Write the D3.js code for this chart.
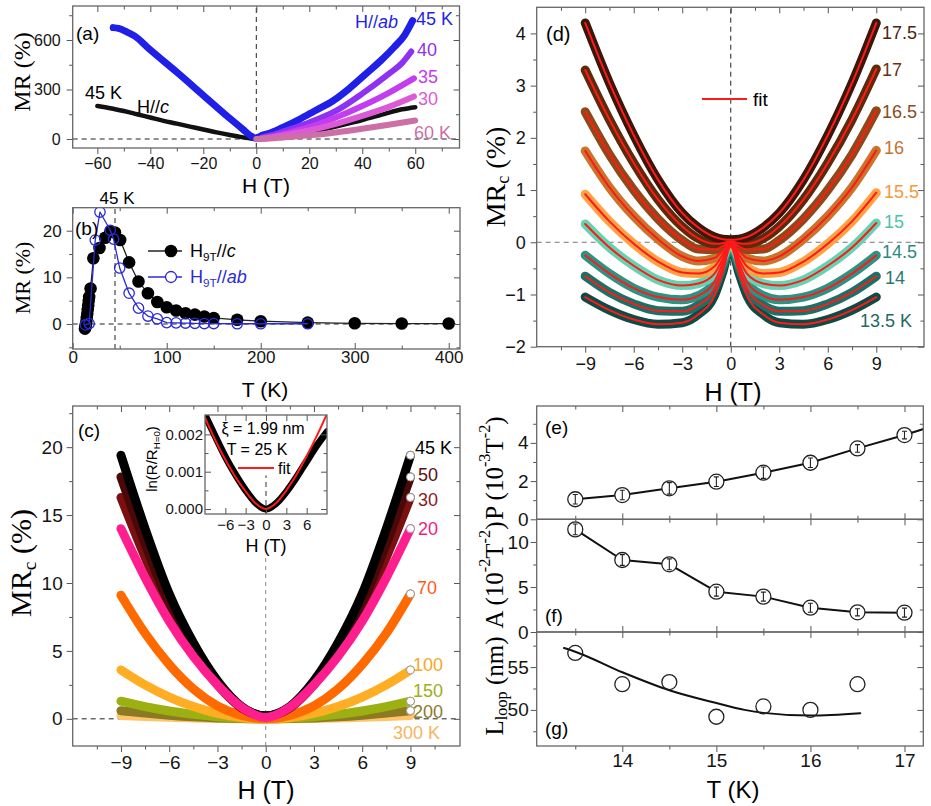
<!DOCTYPE html>
<html><head><meta charset="utf-8">
<script src="https://cdn.jsdelivr.net/npm/d3@7"></script>
<style>body{margin:0;background:#fff}svg{display:block}</style>
</head><body>
<script>
// ================= DATA =================
// (a) MR vs H
const aH_ab45 = [-54,-52,-49,-46,-40,-30,-20,-10,-5,-2,0,2,5,10,16.5,22,29,35,42,47,52,56,59];
const aMR_ab45 = [675,670,650,625,540,405,265,125,58,18,5,22,35,70,121,170,232,305,404,475,556,630,717];
const aH_ab40 = [2,5,10,20,30,40,50,55,58.5];
const aMR_ab40 = [8,20,45,100,170,275,395,460,530];
const aH_ab35 = [2,5,10,20,30,40,50,59.5];
const aMR_ab35 = [4,12,30,72,130,200,280,368];
const aH_ab30 = [2,5,10,20,30,40,50,59.5];
const aMR_ab30 = [2,8,22,52,92,140,195,258];
const aH_ab60 = [0,5,10,20,30,40,50,60];
const aMR_ab60 = [0,3,9,22,40,62,86,112];
const aH_c45 = [-60,-57,-54,-50,-45,-40,-35,-30,-25,-20,-15,-10,-5,-2,0,2,5,10,15,20,25,30,35,40,45,50,55,60];
const aMR_c45 = [200,192,183,170,150,130,110,93,75,58,40,24,10,3,0,2,6,16,28,42,58,76,95,115,137,160,180,193];

// (b) MR at 9 T vs T
const bT_c = [13,13.5,14,14.5,15,15.5,16,16.5,17,17.5,19,22,28.5,34.5,40,45,50.5,60,70,80,90,100,110,120,130,140,150,175,200,250,300,350,400];
const bMR_c = [-1.0,-0.7,-0.2,0.5,1.3,2.2,3.1,4.0,5.0,5.8,7.6,14.1,16.3,18.5,19.8,19.6,18.0,13.2,9.1,6.6,4.7,3.6,2.9,2.3,2.0,1.6,1.3,0.9,0.6,0.3,0.15,0.1,0.1];
const bT_ab = [13.5,17.5,24,29,40,43.5,50,60,70,80,90,100,110,120,130,140,150,175,200,250];
const bMR_ab = [-0.2,0.1,18.0,24.0,20.1,18.2,12.0,6.6,3.4,1.7,1.1,0.3,0.25,0.2,0.15,0.1,0.1,0.05,0.05,0.05];

// (c) MR_c vs H
const cH = [-9,-7.5,-6,-4.5,-3,-1.5,0,1.5,3,4.5,6,7.5,9];
const cMR45 = [19.4,14.0,9.2,5.6,2.8,0.9,0.2,0.9,2.8,5.6,9.2,14.0,19.4];
const cMR50 = [17.8,12.9,8.5,5.2,2.6,0.85,0.2,0.85,2.6,5.2,8.5,12.9,17.8];
const cMR30 = [16.3,11.9,7.9,4.9,2.5,0.8,0.2,0.8,2.5,4.9,7.9,11.9,16.3];
const cMR20 = [14.0,10.4,7.2,4.6,2.5,0.85,0.1,0.85,2.5,4.6,7.2,10.4,14.0];
const cMR70 = [9.1,6.3,4.0,2.2,0.95,0.25,0.0,0.25,0.95,2.2,4.0,6.3,9.2];
const cMR100 = [3.6,2.5,1.6,0.9,0.4,0.1,0.0,0.1,0.4,0.9,1.6,2.5,3.6];
const cMR150 = [1.3,0.9,0.58,0.33,0.15,0.04,0.0,0.04,0.15,0.33,0.58,0.9,1.3];
const cMR200 = [0.6,0.42,0.27,0.15,0.07,0.02,0.0,0.02,0.07,0.15,0.27,0.42,0.6];
const cMR300 = [0.25,0.17,0.11,0.06,0.03,0.01,0.0,0.01,0.03,0.06,0.11,0.17,0.25];
// (c) inset
const iH = [-9,-7.5,-6,-4.5,-3,-1.5,0,1.5,3,4.5,6,7.5,9];
const iLn = [0.00252,0.00195,0.00140,0.00092,0.00050,0.00016,0.00000,0.00015,0.00046,0.00085,0.00128,0.00170,0.00207];
const iFit = [0.00245,0.00185,0.00132,0.00086,0.00047,0.00015,0.00000,0.00016,0.00050,0.00092,0.00142,0.00196,0.00255];

// (d) MR_c vs H, low T
const dH = [-9,-7.5,-6,-4.5,-3,-2,-1,-0.5,0,0.5,1,2,3,4.5,6,7.5,9];
const d175 = [4.2,3.05,2.05,1.2,0.56,0.28,0.1,0.06,0.05,0.06,0.1,0.28,0.56,1.2,2.05,3.05,4.2];
const d170 = [3.3,2.35,1.52,0.82,0.3,0.07,-0.03,-0.02,0.02,-0.02,-0.03,0.07,0.3,0.82,1.52,2.35,3.32];
const d165 = [2.5,1.68,1.0,0.45,0.04,-0.13,-0.14,-0.08,0.0,-0.08,-0.14,-0.13,0.04,0.45,1.0,1.68,2.52];
const d160 = [1.75,1.05,0.5,0.06,-0.27,-0.36,-0.3,-0.16,0.0,-0.16,-0.3,-0.36,-0.27,0.06,0.5,1.05,1.76];
const d155 = [0.92,0.4,-0.03,-0.37,-0.58,-0.6,-0.46,-0.24,0.0,-0.24,-0.46,-0.6,-0.58,-0.37,-0.03,0.4,0.95];
const d150 = [0.35,-0.1,-0.45,-0.72,-0.83,-0.79,-0.6,-0.32,0.0,-0.32,-0.6,-0.79,-0.83,-0.72,-0.45,-0.1,0.37];
const d145 = [-0.25,-0.6,-0.88,-1.05,-1.1,-1.02,-0.75,-0.4,-0.02,-0.4,-0.75,-1.02,-1.1,-1.05,-0.88,-0.6,-0.25];
const d140 = [-0.65,-0.96,-1.18,-1.31,-1.32,-1.2,-0.88,-0.48,-0.05,-0.48,-0.88,-1.2,-1.32,-1.31,-1.18,-0.96,-0.65];
const d135 = [-1.05,-1.3,-1.48,-1.57,-1.54,-1.38,-1.02,-0.58,-0.08,-0.58,-1.02,-1.38,-1.54,-1.57,-1.48,-1.3,-1.05];

// (e),(f),(g) vs T
const efgT = [13.5,14,14.5,15,15.5,16,16.5,17];
const eP = [1.05,1.27,1.62,1.97,2.44,2.96,3.71,4.41];
const ePerr = [0.25,0.25,0.3,0.25,0.3,0.25,0.2,0.2];
const eExtT = [17,17.25];
const eExtP = [4.41,4.8];
const fA = [11.4,8.0,7.52,4.48,3.93,2.7,2.19,2.15];
const fAerr = [0.6,0.6,0.6,0.5,0.5,0.5,0.4,0.5];
const gT = [13.5,14,14.5,15,15.5,16,16.5];
const gL = [56.65,53.0,53.25,49.2,50.4,50.0,53.0];
const gFitT = [13.38,13.5,14,14.5,15,15.3,15.5,16,16.53];
const gFitL = [57.23,56.8,54.4,52.3,50.8,50.0,49.65,49.33,49.6];

// ================= DRAWING =================
const SANS = "'Liberation Sans', Arial, Helvetica, sans-serif";
const SERIF = "'Liberation Serif', 'Times New Roman', Times, serif";
const svg = d3.select('body').append('svg').attr('width', 931).attr('height', 806);
const defs = svg.append('defs');
let clipN = 0;

function makePanel(o) {
  const x = d3.scaleLinear().domain(o.xd).range([o.x0, o.x1]);
  const y = d3.scaleLinear().domain(o.yd).range([o.y1, o.y0]);
  const id = 'clip' + (++clipN);
  defs.append('clipPath').attr('id', id).append('rect')
    .attr('x', o.x0).attr('y', o.y0).attr('width', o.x1 - o.x0).attr('height', o.y1 - o.y0);
  const g = svg.append('g');
  const plot = g.append('g').attr('clip-path', `url(#${id})`);
  return {x, y, g, plot, o};
}

function frame(p, s) {
  const {x, y, g, o} = p;
  const fr = g.append('g');
  const mk = (gen, tr, vals, size, fmt, pad) => {
    const a = fr.append('g').attr('transform', tr)
      .call(gen.tickValues(vals).tickSizeInner(size).tickSizeOuter(0).tickPadding(pad ?? 3).tickFormat(fmt || (() => '')));
    a.select('.domain').remove();
    a.selectAll('line').attr('stroke', '#555').attr('stroke-width', 1);
    a.selectAll('text').attr('font-family', SANS).attr('font-size', s.fs).attr('fill', '#151515');
  };
  const bs = s.bottomIn ? -1 : 1;
  const ls = s.leftIn ? -1 : 1;
  mk(d3.axisBottom(x), `translate(0,${o.y1})`, s.xMajor, 6 * bs, s.xLab === false ? null : s.xFmt, s.xPad);
  mk(d3.axisBottom(x), `translate(0,${o.y1})`, s.xMinor, 3.5 * bs, null);
  mk(d3.axisBottom(x), `translate(0,${o.y0})`, s.xMajor, 6, null);
  mk(d3.axisBottom(x), `translate(0,${o.y0})`, s.xMinor, 3.5, null);
  mk(d3.axisLeft(y), `translate(${o.x0},0)`, s.yMajor, 6 * ls, s.yFmt, s.yPad);
  mk(d3.axisLeft(y), `translate(${o.x0},0)`, s.yMinor, 3.5 * ls, null);
  mk(d3.axisLeft(y), `translate(${o.x1},0)`, s.yMajor, 6, null);
  mk(d3.axisLeft(y), `translate(${o.x1},0)`, s.yMinor, 3.5, null);
  fr.append('rect').attr('x', o.x0).attr('y', o.y0).attr('width', o.x1 - o.x0).attr('height', o.y1 - o.y0)
    .attr('fill', 'none').attr('stroke', '#666').attr('stroke-width', 1.3);
}

function drawLine(p, xs, ys, color, w, curve) {
  const data = xs.map((v, i) => [v, ys[i]]);
  return p.plot.append('path').datum(data)
    .attr('d', d3.line().x(d => p.x(d[0])).y(d => p.y(d[1])).curve(curve || d3.curveMonotoneX))
    .attr('fill', 'none').attr('stroke', color).attr('stroke-width', w)
    .attr('stroke-linecap', 'round').attr('stroke-linejoin', 'round');
}

function hline(p, v, color, dash) {
  p.plot.append('line').attr('x1', p.o.x0).attr('x2', p.o.x1).attr('y1', p.y(v)).attr('y2', p.y(v))
    .attr('stroke', color).attr('stroke-width', 1).attr('stroke-dasharray', dash);
}
function vline(p, v, color, dash, yTop) {
  p.plot.append('line').attr('x1', p.x(v)).attr('x2', p.x(v)).attr('y1', p.o.y1).attr('y2', yTop ?? p.o.y0)
    .attr('stroke', color).attr('stroke-width', 1).attr('stroke-dasharray', dash);
}

function rich(t, parts, fs) {
  let shift = 0;
  parts.forEach(pt => {
    const target = pt.sub ? fs * 0.3 : pt.sup ? -fs * 0.38 : 0;
    const ts = t.append('tspan').text(pt.t).attr('dy', target - shift);
    shift = target;
    if (pt.sub || pt.sup) ts.attr('font-size', fs * 0.65);
    if (pt.it) ts.attr('font-style', 'italic');
  });
}
function label(x, y, parts, o) {
  const t = svg.append('text').attr('x', x).attr('y', y).attr('font-size', o.fs).attr('fill', o.color || '#000')
    .attr('font-family', o.serif ? SERIF : SANS).attr('text-anchor', o.anchor || 'start')
    .attr('dominant-baseline', 'central');
  if (o.rotate) t.attr('transform', `rotate(-90 ${x} ${y})`);
  rich(t, typeof parts === 'string' ? [{t: parts}] : parts, o.fs);
  return t;
}
const fmtD = d3.format('d');

// ---------- (a) ----------
const pA = makePanel({x0: 72.7, x1: 459.5, y0: 6, y1: 148, xd: [-69.3, 76.7], yd: [-54.5, 806]});
hline(pA, 0, '#222', '5,4');
vline(pA, 0, '#222', '5,4');
[
  {H: aH_c45, V: aMR_c45, color: '#111', w: 4.5},
  {H: aH_ab45, V: aMR_ab45, color: '#1f1fe8', w: 7},
  {H: aH_ab40, V: aMR_ab40, color: '#9030f0', w: 6},
  {H: aH_ab35, V: aMR_ab35, color: '#c43cf0', w: 6},
  {H: aH_ab30, V: aMR_ab30, color: '#dc5ad8', w: 6},
  {H: aH_ab60, V: aMR_ab60, color: '#cc6fa6', w: 6}
].forEach(s => drawLine(pA, s.H, s.V, s.color, s.w));
frame(pA, {xMajor: [-60, -40, -20, 0, 20, 40, 60], xMinor: [-50, -30, -10, 10, 30, 50, 70],
  yMajor: [0, 300, 600], yMinor: [150, 450, 750], xFmt: fmtD, yFmt: fmtD, fs: 16, xPad: 4, yPad: 6});
label(76, 33, '(a)', {fs: 19});
label(355, 22, [{t: 'H//'}, {t: 'ab', it: 1}], {fs: 18, color: '#1f1fe8'});
label(416, 19, '45 K', {fs: 18, color: '#1f1fe8'});
label(417, 50, '40', {fs: 18, color: '#9030f0'});
label(418, 77, '35', {fs: 18, color: '#c43cf0'});
label(418, 99, '30', {fs: 18, color: '#dc5ad8'});
label(414, 133, '60 K', {fs: 18, color: '#cc6fa6'});
label(85, 93, '45 K', {fs: 18});
label(137, 107, [{t: 'H//'}, {t: 'c', it: 1}], {fs: 18});
label(266, 185, 'H (T)', {fs: 21, anchor: 'middle'});
label(22, 72, 'MR (%)', {fs: 24, anchor: 'middle', rotate: 1, serif: 1});

// ---------- (b) ----------
const pB = makePanel({x0: 72.7, x1: 460, y0: 207.7, y1: 349, xd: [0, 412], yd: [-5.36, 24.93]});
hline(pB, 0, '#222', '5,4');
vline(pB, 45, '#222', '5,4');
drawLine(pB, bT_c, bMR_c, '#222', 1.3, d3.curveLinear);
pB.plot.selectAll(null).data(bT_c.map((t, i) => [t, bMR_c[i]])).enter().append('circle')
  .attr('cx', d => pB.x(d[0])).attr('cy', d => pB.y(d[1])).attr('r', 6.3).attr('fill', '#000');
drawLine(pB, bT_ab, bMR_ab, '#2b2bd6', 1.3, d3.curveLinear);
pB.plot.selectAll(null).data(bT_ab.map((t, i) => [t, bMR_ab[i]])).enter().append('circle')
  .attr('cx', d => pB.x(d[0])).attr('cy', d => pB.y(d[1])).attr('r', 5.2)
  .attr('fill', 'none').attr('stroke', '#2b2bd6').attr('stroke-width', 1.3);
frame(pB, {xMajor: [0, 100, 200, 300, 400], xMinor: [50, 150, 250, 350], yMajor: [0, 10, 20], yMinor: [-5, 5, 15],
  xFmt: fmtD, yFmt: fmtD, fs: 17, xPad: 2, yPad: 5, bottomIn: true});
svg.append('line').attr('x1', 148).attr('x2', 182).attr('y1', 251).attr('y2', 251).attr('stroke', '#222').attr('stroke-width', 1.3);
svg.append('circle').attr('cx', 171).attr('cy', 251).attr('r', 6.3).attr('fill', '#000');
svg.append('line').attr('x1', 148).attr('x2', 182).attr('y1', 277).attr('y2', 277).attr('stroke', '#2b2bd6').attr('stroke-width', 1.3);
svg.append('circle').attr('cx', 171).attr('cy', 277).attr('r', 5.5).attr('fill', '#fff').attr('stroke', '#2b2bd6').attr('stroke-width', 1.3);
label(190, 251, [{t: 'H'}, {t: '9T', sub: 1}, {t: '//'}, {t: 'c', it: 1}], {fs: 18});
label(190, 277, [{t: 'H'}, {t: '9T', sub: 1}, {t: '//'}, {t: 'ab', it: 1}], {fs: 18, color: '#2b2bd6'});
label(75, 228, '(b)', {fs: 19});
label(117, 198, '45 K', {fs: 17, anchor: 'middle'});
label(265, 389, 'T (K)', {fs: 21, anchor: 'middle'});
label(22, 278, 'MR (%)', {fs: 22, anchor: 'middle', rotate: 1, serif: 1});

// ---------- (c) ----------
const pC = makePanel({x0: 72.7, x1: 460, y0: 406, y1: 746, xd: [-12, 12.08], yd: [-2.0, 23.03]});
hline(pC, 0, '#222', '5,4');
vline(pC, 0, '#888', '4,4', 557);
const cSeries = [
  {V: cMR300, color: '#ffc46a', lab: '300 K', lx: 393, ly: 733, lc: '#f6b462', end: false},
  {V: cMR200, color: '#8c7a22', lab: '200', lx: 413, ly: 712, lc: '#8d7a2a', end: true},
  {V: cMR150, color: '#9db012', lab: '150', lx: 413, ly: 691, lc: '#9caf1c', end: true},
  {V: cMR100, color: '#ffad22', lab: '100', lx: 413, ly: 665, lc: '#f4a828', end: true},
  {V: cMR70, color: '#ff6a00', lab: '70', lx: 417, ly: 588, lc: '#ff5a1a', end: true},
  {V: cMR30, color: '#7a1010', lab: '30', lx: 418, ly: 500, lc: '#8b1a1a', end: true},
  {V: cMR50, color: '#4a0808', lab: '50', lx: 418, ly: 475, lc: '#5a0f0f', end: true},
  {V: cMR45, color: '#000000', lab: '45 K', lx: 415, ly: 448, lc: '#000', end: true},
  {V: cMR20, color: '#ff1e8e', lab: '20', lx: 418, ly: 529, lc: '#f0207f', end: true}
];
cSeries.forEach(s => drawLine(pC, cH, s.V, s.color, 9));
cSeries.filter(s => s.end).forEach(s => {
  pC.plot.append('circle').attr('cx', pC.x(cH[cH.length - 1])).attr('cy', pC.y(s.V[s.V.length - 1])).attr('r', 4)
    .attr('fill', '#fff').attr('stroke', '#999').attr('stroke-width', 1);
});
frame(pC, {xMajor: [-9, -6, -3, 0, 3, 6, 9], xMinor: [-10.5, -7.5, -4.5, -1.5, 1.5, 4.5, 7.5, 10.5],
  yMajor: [0, 5, 10, 15, 20], yMinor: [2.5, 7.5, 12.5, 17.5, 22.5], xFmt: fmtD, yFmt: fmtD, fs: 19, xPad: 4, yPad: 4});
cSeries.forEach(s => label(s.lx, s.ly, s.lab, {fs: 18, color: s.lc}));
label(78, 430, '(c)', {fs: 19});
label(266, 790, 'H (T)', {fs: 25, anchor: 'middle'});
label(20, 563, [{t: 'MR'}, {t: 'c', sub: 1}, {t: ' (%)'}], {fs: 30, anchor: 'middle', rotate: 1, serif: 1});

// inset
const pI = makePanel({x0: 205, x1: 327, y0: 415, y1: 514, xd: [-9, 9], yd: [-0.000134, 0.00252]});
pI.plot.append('rect').attr('x', 205).attr('y', 415).attr('width', 122).attr('height', 99).attr('fill', '#fff');
vline(pI, 0, '#333', '5,4', pI.y(0.0009));
drawLine(pI, iH, iLn, '#000', 7);
drawLine(pI, iH, iFit, '#ff1a1a', 2);
frame(pI, {xMajor: [-6, -3, 0, 3, 6], xMinor: [], yMajor: [0, 0.001, 0.002], yMinor: [0.0005, 0.0015],
  xFmt: fmtD, yFmt: d3.format('.3f'), fs: 15, xPad: 5, yPad: 2, bottomIn: true, leftIn: true});
label(263, 428, 'ξ = 1.99 nm', {fs: 16, anchor: 'middle'});
label(257, 449, 'T = 25 K', {fs: 16, anchor: 'middle'});
svg.append('line').attr('x1', 238).attr('x2', 274).attr('y1', 468).attr('y2', 468).attr('stroke', '#ff1a1a').attr('stroke-width', 2);
label(278, 468, 'fit', {fs: 16});
label(266, 546, 'H (T)', {fs: 18, anchor: 'middle'});
label(151, 459, [{t: 'ln(R/R'}, {t: 'H=0', sub: 1}, {t: ')'}], {fs: 15, anchor: 'middle', rotate: 1});

// ---------- (d) ----------
const pD = makePanel({x0: 536.7, x1: 924, y0: 7.3, y1: 346.7, xd: [-12, 11.95], yd: [-2, 4.5]});
hline(pD, 0, '#777', '5,4');
vline(pD, 0, '#222', '5,4');
const dSeries = [
  {V: d135, color: '#0f4a44', lab: '13.5 K', lx: 860, ly: 321, lc: '#1f6a62'},
  {V: d140, color: '#1d7066', lab: '14', lx: 885, ly: 278, lc: '#267a70'},
  {V: d145, color: '#2c9284', lab: '14.5', lx: 882, ly: 252, lc: '#2a8a80'},
  {V: d150, color: '#66d2b2', lab: '15', lx: 884, ly: 222, lc: '#4cc4a4'},
  {V: d155, color: '#ffa244', lab: '15.5', lx: 884, ly: 192, lc: '#f4983c'},
  {V: d160, color: '#c8742a', lab: '16', lx: 884, ly: 148, lc: '#c27430'},
  {V: d165, color: '#8b4a18', lab: '16.5', lx: 882, ly: 112, lc: '#8b4a1a'},
  {V: d170, color: '#5e2a0c', lab: '17', lx: 882, ly: 70, lc: '#6b3212'},
  {V: d175, color: '#3a170a', lab: '17.5', lx: 882, ly: 33, lc: '#4a2410'}
];
dSeries.forEach(s => drawLine(pD, dH, s.V, s.color, 9));
dSeries.forEach(s => drawLine(pD, dH, s.V, '#ff1a1a', 2));
frame(pD, {xMajor: [-9, -6, -3, 0, 3, 6, 9], xMinor: [-10.5, -7.5, -4.5, -1.5, 1.5, 4.5, 7.5, 10.5],
  yMajor: [-2, -1, 0, 1, 2, 3, 4], yMinor: [-1.5, -0.5, 0.5, 1.5, 2.5, 3.5], xFmt: fmtD, yFmt: fmtD, fs: 18, xPad: 5, yPad: 5});
dSeries.forEach(s => label(s.lx, s.ly, s.lab, {fs: 18, color: s.lc}));
svg.append('line').attr('x1', 702).attr('x2', 747).attr('y1', 99).attr('y2', 99).attr('stroke', '#ff1a1a').attr('stroke-width', 2.2);
label(753, 99, 'fit', {fs: 19});
label(546, 34, '(d)', {fs: 20});
label(733, 392, 'H (T)', {fs: 25, anchor: 'middle'});
label(495, 177, [{t: 'MR'}, {t: 'c', sub: 1}, {t: ' (%)'}], {fs: 28, anchor: 'middle', rotate: 1, serif: 1});

// ---------- (e),(f),(g) ----------
const xdT = [13.09, 17.2];
const pE = makePanel({x0: 536.7, x1: 923.3, y0: 406, y1: 519.3, xd: xdT, yd: [0, 5.93]});
const pF = makePanel({x0: 536.7, x1: 923.3, y0: 519.3, y1: 632, xd: xdT, yd: [0, 12.52]});
const pG = makePanel({x0: 536.7, x1: 923.3, y0: 632, y1: 746, xd: xdT, yd: [45.78, 59.1]});

function errPanel(p, T, V, E) {
  drawLine(p, T, V, '#111', 2, d3.curveLinear);
  const pts = T.map((t, i) => ({t, v: V[i], e: E[i]}));
  p.plot.selectAll(null).data(pts).enter().append('circle')
    .attr('cx', d => p.x(d.t)).attr('cy', d => p.y(d.v)).attr('r', 7.5)
    .attr('fill', '#fff').attr('stroke', '#222').attr('stroke-width', 1.3);
  const eb = p.plot.selectAll(null).data(pts).enter().append('g').attr('stroke', '#222').attr('stroke-width', 1.1);
  eb.append('line').attr('x1', d => p.x(d.t)).attr('x2', d => p.x(d.t)).attr('y1', d => p.y(d.v - d.e)).attr('y2', d => p.y(d.v + d.e));
  eb.append('line').attr('x1', d => p.x(d.t) - 2.5).attr('x2', d => p.x(d.t) + 2.5).attr('y1', d => p.y(d.v - d.e)).attr('y2', d => p.y(d.v - d.e));
  eb.append('line').attr('x1', d => p.x(d.t) - 2.5).attr('x2', d => p.x(d.t) + 2.5).attr('y1', d => p.y(d.v + d.e)).attr('y2', d => p.y(d.v + d.e));
}
drawLine(pE, eExtT, eExtP, '#111', 2, d3.curveLinear);
errPanel(pE, efgT, eP, ePerr);
errPanel(pF, efgT, fA, fAerr);
drawLine(pG, gFitT, gFitL, '#111', 2, d3.curveMonotoneX);
pG.plot.selectAll(null).data(gT.map((t, i) => [t, gL[i]])).enter().append('circle')
  .attr('cx', d => pG.x(d[0])).attr('cy', d => pG.y(d[1])).attr('r', 7.5)
  .attr('fill', 'none').attr('stroke', '#222').attr('stroke-width', 1.3);

const tMaj = [14, 15, 16, 17], tMin = [13.5, 14.5, 15.5, 16.5];
frame(pE, {xMajor: tMaj, xMinor: tMin, xLab: false, bottomIn: true, yMajor: [0, 2, 4], yMinor: [1, 3, 5], yFmt: fmtD, fs: 19, yPad: 2});
frame(pF, {xMajor: tMaj, xMinor: tMin, xLab: false, bottomIn: true, yMajor: [0, 5, 10], yMinor: [2.5, 7.5], yFmt: fmtD, fs: 19, yPad: 2});
frame(pG, {xMajor: tMaj, xMinor: tMin, xFmt: fmtD, yMajor: [50, 55], yMinor: [47.5, 52.5, 57.5], yFmt: fmtD, fs: 19, xPad: 2, yPad: 2});
label(545, 427, '(e)', {fs: 19});
label(545, 615, '(f)', {fs: 19});
label(545, 728, '(g)', {fs: 19});
label(733, 789, 'T (K)', {fs: 24, anchor: 'middle'});
label(494, 468, [{t: 'P (10'}, {t: '-3', sup: 1}, {t: 'T'}, {t: '-2', sup: 1}, {t: ')'}], {fs: 25, anchor: 'middle', rotate: 1, serif: 1});
label(494, 575, [{t: 'A (10'}, {t: '-2', sup: 1}, {t: 'T'}, {t: '-2', sup: 1}, {t: ')'}], {fs: 25, anchor: 'middle', rotate: 1, serif: 1});
label(494, 686, [{t: 'L'}, {t: 'loop', sub: 1}, {t: ' (nm)'}], {fs: 25, anchor: 'middle', rotate: 1, serif: 1});
</script>
</body></html>
